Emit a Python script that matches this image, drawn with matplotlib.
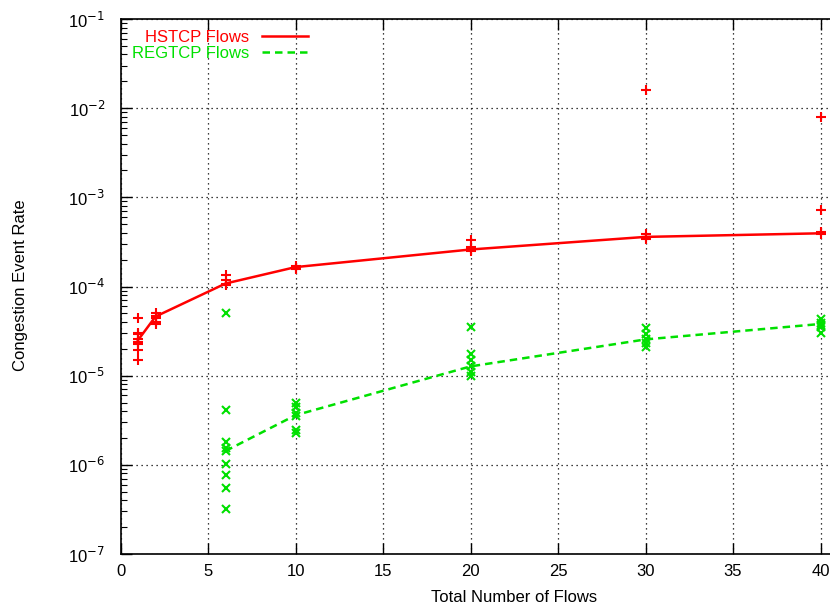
import numpy as np
import matplotlib
matplotlib.use("Agg")
import matplotlib.pyplot as plt
from matplotlib.ticker import LogLocator, NullFormatter, FixedLocator

plt.rcParams['font.family'] = ['Liberation Sans', 'DejaVu Sans']

# Per-flow congestion event rates for each total-flow count
hs_x = [1, 1, 1, 1, 1, 1, 1, 1,
        2, 2, 2, 2, 2,
        6, 6, 6, 6,
        10, 10, 10,
        20, 20, 20, 20,
        30, 30, 30, 30,
        40, 40, 40, 40]
hs_y = [4.4e-5, 3.0e-5, 2.9e-5, 2.55e-5, 2.4e-5, 2.25e-5, 1.95e-5, 1.5e-5,
        5.1e-5, 4.7e-5, 4.4e-5, 4.05e-5, 3.8e-5,
        1.33e-4, 1.17e-4, 1.08e-4, 1.04e-4,
        1.70e-4, 1.63e-4, 1.58e-4,
        3.3e-4, 2.8e-4, 2.6e-4, 2.5e-4,
        1.6e-2, 3.9e-4, 3.6e-4, 3.4e-4,
        8.0e-3, 7.2e-4, 4.1e-4, 3.9e-4]

reg_x = [6, 6, 6, 6, 6, 6, 6, 6, 6,
         10, 10, 10, 10, 10, 10,
         20, 20, 20, 20, 20, 20,
         30, 30, 30, 30, 30,
         40, 40, 40, 40, 40]
reg_y = [5.1e-5, 4.1e-6, 1.8e-6, 1.55e-6, 1.43e-6, 1.02e-6, 7.7e-7, 5.5e-7, 3.2e-7,
         5.0e-6, 4.5e-6, 3.8e-6, 3.5e-6, 2.45e-6, 2.3e-6,
         3.5e-5, 1.75e-5, 1.5e-5, 1.3e-5, 1.1e-5, 1.0e-5,
         3.4e-5, 2.9e-5, 2.6e-5, 2.3e-5, 2.1e-5,
         4.3e-5, 3.9e-5, 3.7e-5, 3.5e-5, 3.0e-5]

# Average curves
hs_line_x = [1, 2, 6, 10, 20, 30, 40]
hs_line_y = [2.5e-5, 4.6e-5, 1.08e-4, 1.65e-4, 2.6e-4, 3.6e-4, 3.95e-4]
reg_line_x = [6, 10, 20, 30, 40]
reg_line_y = [1.43e-6, 3.6e-6, 1.27e-5, 2.55e-5, 3.8e-5]

x_ticks = [0, 5, 10, 15, 20, 25, 30, 35, 40]
y_ticks = [1e-7, 1e-6, 1e-5, 1e-4, 1e-3, 1e-2, 1e-1]
y_tick_labels = [r'10$^{-7}$', r'10$^{-6}$', r'10$^{-5}$', r'10$^{-4}$',
                 r'10$^{-3}$', r'10$^{-2}$', r'10$^{-1}$']

RED = '#ff0000'
GREEN = '#00e000'

W, H = 830, 608
fig = plt.figure(figsize=(W / 100, H / 100), dpi=100)
x0_px, x40_px = 120.5, 820.5
ppu = (x40_px - x0_px) / 40.0
xmax = 45
top_px, bot_px = 19, 554
ax = fig.add_axes([x0_px / W, (H - bot_px) / H,
                   ppu * xmax / W, (bot_px - top_px) / H])

ax.set_yscale('log')
ax.set_xlim(0, xmax)
ax.set_ylim(1e-7, 1e-1)

ax.plot(hs_line_x, hs_line_y, color=RED, lw=1.8, zorder=3)
ax.plot(reg_line_x, reg_line_y, color=GREEN, lw=1.8, ls=(0, (3, 2)), zorder=3)
ax.plot(hs_x, hs_y, ls='none', marker='+', ms=7.5, mew=1.5, color=RED, zorder=4)
ax.plot(reg_x, reg_y, ls='none', marker='x', ms=6, mew=1.5, color=GREEN, zorder=4)

ax.xaxis.set_major_locator(FixedLocator(x_ticks))
ax.set_yticks(y_ticks)
ax.set_yticklabels(y_tick_labels)
ax.yaxis.set_minor_locator(LogLocator(base=10, subs=np.arange(2, 10)))
ax.yaxis.set_minor_formatter(NullFormatter())

ax.tick_params(axis='both', which='major', direction='in', length=8, width=1,
               top=True, right=True, labelsize=12)
ax.tick_params(axis='x', which='major', pad=7)
ax.tick_params(axis='y', which='major', pad=11)
ax.tick_params(axis='y', which='minor', direction='in', length=4, width=0.8,
               right=True)

ax.grid(True, which='major', color='black', ls=(0, (1, 3)), lw=0.9)

for s in ax.spines.values():
    s.set_linewidth(1.2)
ax.spines['right'].set_visible(False)

ax.set_xlabel('Total Number of Flows', fontsize=12, labelpad=8)
fig.text(20 / W, 1 - 285 / H, 'Congestion Event Rate', rotation=90,
         ha='center', va='center', fontsize=12)

# Legend drawn in gnuplot style: right-aligned key text followed by a line sample
fig.text(249 / W, 1 - 37 / H, 'HSTCP Flows', color=RED, ha='right',
         va='center', fontsize=12)
fig.text(249 / W, 1 - 53 / H, 'REGTCP Flows', color=GREEN, ha='right',
         va='center', fontsize=12)
fig.add_artist(plt.Line2D([262 / W, 308 / W], [1 - 36 / H, 1 - 36 / H],
                          color=RED, lw=1.8))
fig.add_artist(plt.Line2D([262 / W, 308 / W], [1 - 52 / H, 1 - 52 / H],
                          color=GREEN, lw=1.8, ls=(0, (3, 2))))

fig.savefig('out.png', dpi=100)
